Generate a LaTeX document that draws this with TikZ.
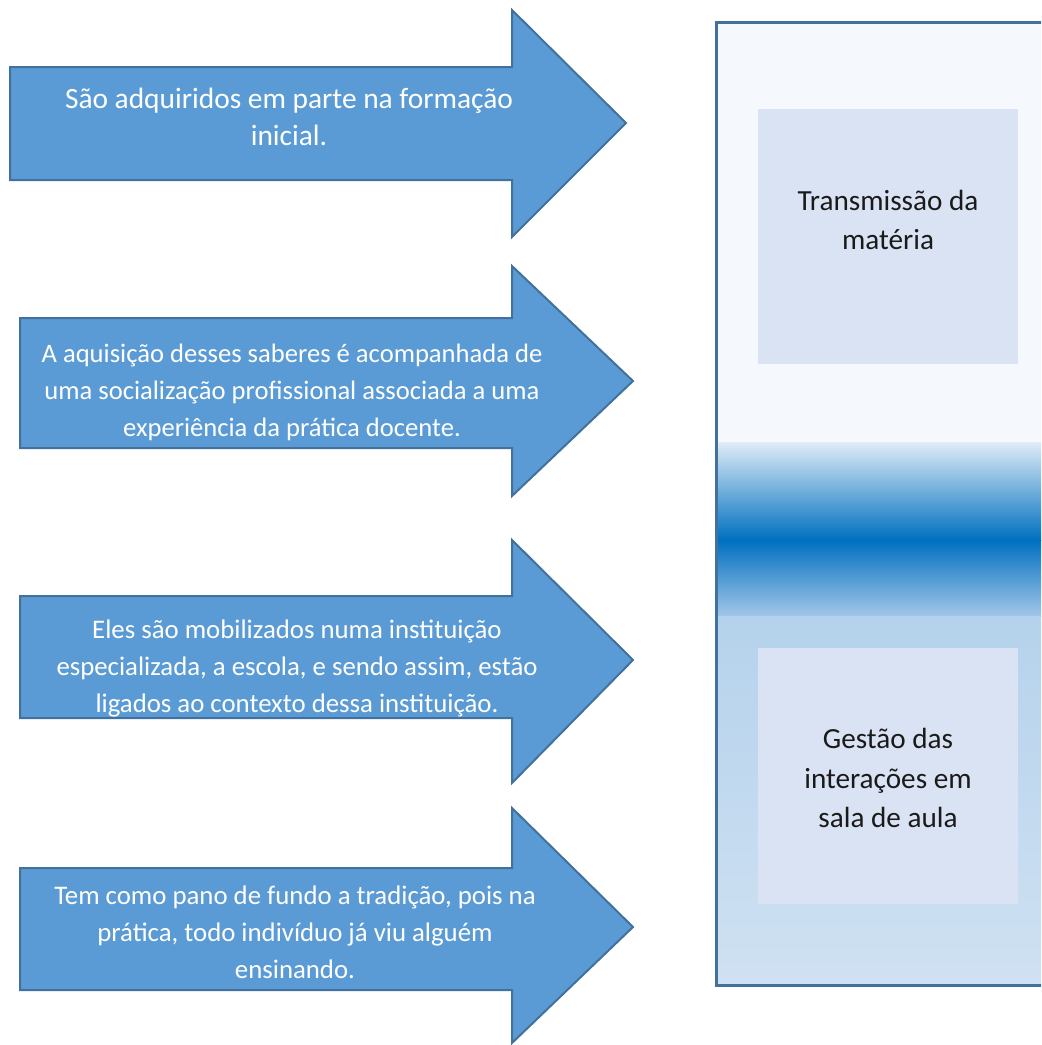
\documentclass[tikz,border=0pt]{standalone}
\usepackage{fontspec}
\setmainfont{Carlito}
\definecolor{arrowfill}{HTML}{5B9BD5}
\definecolor{arrowline}{HTML}{41719C}
\definecolor{boxfill}{HTML}{DAE3F3}
\definecolor{paneltop}{HTML}{F5F9FD}
\definecolor{bandlight}{HTML}{E0ECF7}
\definecolor{banddark}{HTML}{0070C0}
\definecolor{bandlow}{HTML}{A2C6E8}
\definecolor{lowtop}{HTML}{B5D2EC}
\definecolor{lowbot}{HTML}{CFE1F2}
\definecolor{boxtext}{HTML}{1A1A1A}
\begin{document}
\begin{tikzpicture}[x=0.5pt,y=-0.5pt,
  bigarrow/.style={fill=arrowfill,draw=arrowline,line width=1pt,line join=miter},
  arrowtext/.style={text=white,align=center,font=\fontsize{13.4}{18.5}\selectfont,inner sep=0pt},
  boxtextstyle/.style={text=boxtext,align=center,font=\fontsize{14.6}{19.75}\selectfont,inner sep=0pt},
  innerbox/.style={fill=boxfill,draw=none}]
\useasboundingbox (0,0) rectangle (1041,1045);
\begin{scope}
\clip (0,0) rectangle (1041,1045);
% right panel gradient
\shade[top color=paneltop,bottom color=paneltop] (716,22) rectangle (1050,442);
\shade[top color=bandlight,bottom color=banddark] (716,442) rectangle (1050,540);
\shade[top color=banddark,bottom color=bandlow] (716,540) rectangle (1050,616);
\shade[top color=lowtop,bottom color=lowbot] (716,616) rectangle (1050,985);
\draw[draw=arrowline,line width=1.5pt] (1050,22) -- (716,22) -- (716,985) -- (1050,985);
% inner boxes
\fill[innerbox] (758,109) rectangle (1018,364);
\fill[innerbox] (758,648) rectangle (1018,904);
\end{scope}
\node[boxtextstyle] (t1) at (888,220) {Transmissão da\\matéria};
\node[boxtextstyle] (t2) at (888,778) {Gestão das\\interações em\\sala de aula};
% arrows
\draw[bigarrow] (10,67) -- (512,67) -- (512,10) -- (626,123) -- (512,237) -- (512,180) -- (10,180) -- cycle;
\draw[bigarrow] (20,318) -- (512,318) -- (512,266) -- (633,381) -- (512,496) -- (512,448) -- (20,448) -- cycle;
\draw[bigarrow] (20,596) -- (512,596) -- (512,540) -- (633,660) -- (512,783) -- (512,718) -- (20,718) -- cycle;
\draw[bigarrow] (20,868) -- (512,868) -- (512,808) -- (633,927) -- (512,1043) -- (512,990) -- (20,990) -- cycle;
\node[arrowtext,font=\fontsize{14.7}{18.5}\selectfont] (a1) at (289,117) {São adquiridos em parte na formação\\inicial.};
\node[arrowtext,font=\fontsize{13.3}{18.5}\selectfont] (a2) at (292,392) {A aquisição desses saberes é acompanhada de\\uma socialização profissional associada a uma\\experiência da prática docente.};
\node[arrowtext] (a3) at (297,668) {Eles são mobilizados numa instituição\\especializada, a escola, e sendo assim, estão\\ligados ao contexto dessa instituição.};
\node[arrowtext] (a4) at (295,932) {Tem como pano de fundo a tradição, pois na\\prática, todo indivíduo já viu alguém\\ensinando.};
\end{tikzpicture}
\end{document}
